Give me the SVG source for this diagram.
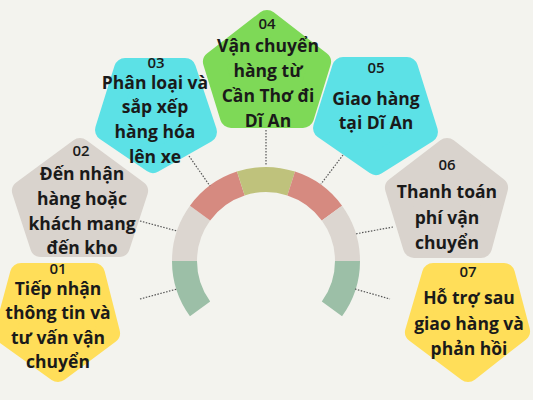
<svg xmlns="http://www.w3.org/2000/svg" width="533" height="400" viewBox="0 0 533 400">
<style>
.bg{fill:#f3f3ee}
.pent{stroke-width:22;stroke-linejoin:round}
.cyan{fill:#5ce1e6;stroke:#5ce1e6}
.green{fill:#7ed957;stroke:#7ed957}
.yellow{fill:#ffde59;stroke:#ffde59}
.beige{fill:#d9d3cd;stroke:#d9d3cd}
.num{font-family:"Open Sans","Liberation Sans",sans-serif;font-weight:600;font-size:15px;fill:#1a1a1a;text-anchor:middle}
.lbl{font-family:"Open Sans","Liberation Sans",sans-serif;font-weight:700;font-size:17.5px;fill:#1a1a1a;text-anchor:middle}
.conn line{stroke:#555;stroke-width:1.2;stroke-dasharray:1.5 1.5}
</style>
<rect class="bg" x="0" y="0" width="533" height="400"/>
<g id="arc">
<path fill="#9cbfa7" d="M189.95 316.25 A94 94 0 0 1 172 261 L197 261 A69 69 0 0 0 210.18 301.56 Z"/>
<path fill="#dcd6d0" d="M172 261 A94 94 0 0 1 189.95 205.75 L210.18 220.44 A69 69 0 0 0 197 261 Z"/>
<path fill="#d68a80" d="M189.95 205.75 A94 94 0 0 1 236.95 171.6 L244.68 195.38 A69 69 0 0 0 210.18 220.44 Z"/>
<path fill="#bfc27c" d="M236.95 171.6 A94 94 0 0 1 295.05 171.6 L287.32 195.38 A69 69 0 0 0 244.68 195.38 Z"/>
<path fill="#d68a80" d="M295.05 171.6 A94 94 0 0 1 342.05 205.75 L321.82 220.44 A69 69 0 0 0 287.32 195.38 Z"/>
<path fill="#dcd6d0" d="M342.05 205.75 A94 94 0 0 1 360 261 L335 261 A69 69 0 0 0 321.82 220.44 Z"/>
<path fill="#9cbfa7" d="M360 261 A94 94 0 0 1 342.05 316.25 L321.82 301.56 A69 69 0 0 0 335 261 Z"/>
</g>
<g id="node01">
<polygon class="pent yellow" points="21,274 94,274 109,333 58,371 5,333"/>
<text class="num" x="58" y="274">01</text>
<text class="lbl" x="58" y="295">Tiếp nhận</text>
<text class="lbl" x="58" y="319">thông tin và</text>
<text class="lbl" x="58" y="344">tư vấn vận</text>
<text class="lbl" x="58" y="368">chuyển</text>
</g>
<g id="node02">
<polygon class="pent beige" points="80,149 137,191 119,246 41,246 23,191"/>
<text class="num" x="81" y="156">02</text>
<text class="lbl" x="82" y="180">Đến nhận</text>
<text class="lbl" x="82" y="205">hàng hoặc</text>
<text class="lbl" x="82" y="230">khách mang</text>
<text class="lbl" x="82" y="254">đến kho</text>
</g>
<g id="node03">
<polygon class="pent cyan" points="125,69 185,69 206,132 153,162 106,130"/>
<text class="num" x="156" y="68">03</text>
<text class="lbl" x="155" y="89">Phân loại và</text>
<text class="lbl" x="155" y="113">sắp xếp</text>
<text class="lbl" x="155" y="138">hàng hóa</text>
<text class="lbl" x="155" y="163">lên xe</text>
</g>
<g id="node04">
<polygon class="pent green" points="267,21 320,62 303,117 231,117 214,62"/>
<text class="num" x="267" y="29">04</text>
<text class="lbl" x="268" y="52">Vận chuyển</text>
<text class="lbl" x="268" y="77">hàng từ</text>
<text class="lbl" x="268" y="102">Cần Thơ đi</text>
<text class="lbl" x="268" y="127">Dĩ An</text>
</g>
<g id="node05">
<polygon class="pent cyan" points="343,68 407,68 427,132 376,164 324,128"/>
<text class="num" x="376" y="73">05</text>
<text class="lbl" x="376" y="105">Giao hàng</text>
<text class="lbl" x="376" y="129">tại Dĩ An</text>
</g>
<g id="node06">
<polygon class="pent beige" points="447,149 497,188 481,247 414,247 396,188"/>
<text class="num" x="447" y="170">06</text>
<text class="lbl" x="447" y="198">Thanh toán</text>
<text class="lbl" x="447" y="224">phí vận</text>
<text class="lbl" x="447" y="249">chuyển</text>
</g>
<g id="node07">
<polygon class="pent yellow" points="433,274 504,274 519,331 468,371 416,332"/>
<text class="num" x="468" y="277">07</text>
<text class="lbl" x="469" y="304">Hỗ trợ sau</text>
<text class="lbl" x="469" y="330">giao hàng và</text>
<text class="lbl" x="469" y="355">phản hồi</text>
</g>
<g id="connectors" class="conn">
<line x1="140" y1="299" x2="177" y2="289"/>
<line x1="140" y1="221" x2="177" y2="231"/>
<line x1="189" y1="156" x2="210" y2="186"/>
<line x1="266" y1="130" x2="266" y2="165"/>
<line x1="343" y1="155" x2="321" y2="184"/>
<line x1="393" y1="227" x2="355" y2="234"/>
<line x1="355" y1="289" x2="390" y2="299"/>
</g>
</svg>
